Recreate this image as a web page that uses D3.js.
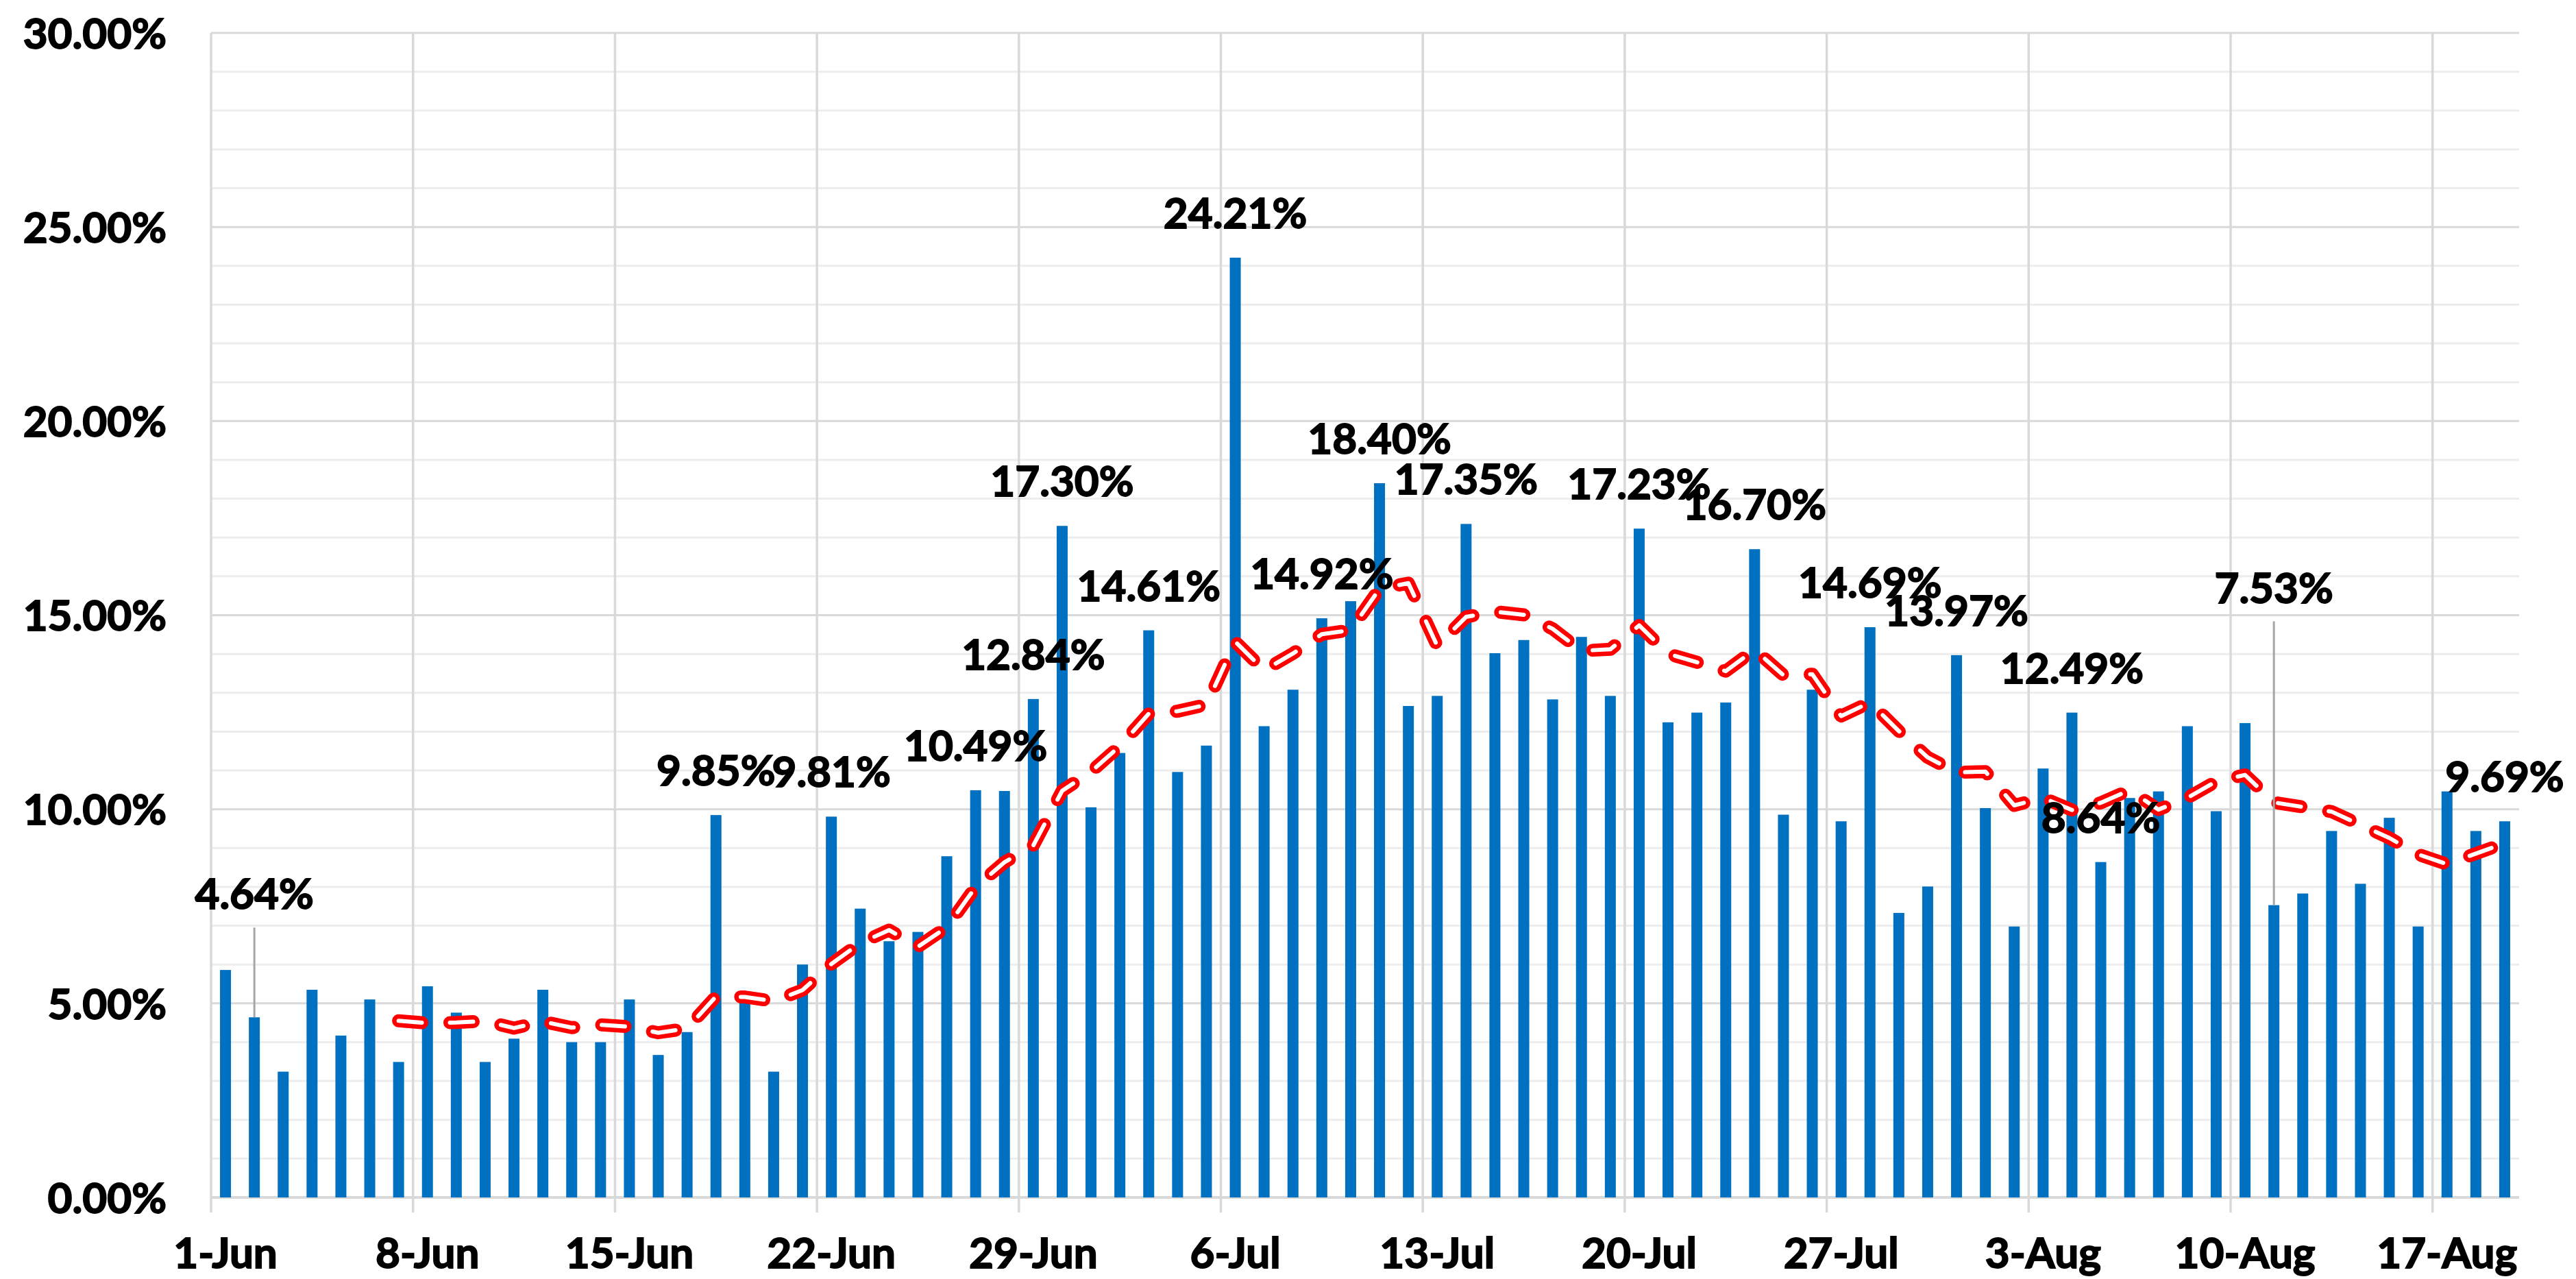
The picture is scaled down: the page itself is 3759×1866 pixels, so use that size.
<!DOCTYPE html>
<html><head><meta charset="utf-8">
<script src="https://cdn.jsdelivr.net/npm/d3@7"></script>
<style>html,body{margin:0;padding:0;background:#fff;} svg{display:block;}</style>
</head><body>
<svg id="chart" width="3759" height="1866"></svg>
<script>
// ---------- data ----------
const startDay = "2020-06-01";
const dayCount = 80;
// daily positivity (%), 1-Jun .. 19-Aug
const positivity = [
  5.86, 4.64, 3.24, 5.35, 4.17, 5.10, 3.49,      // 1-7 Jun
  5.44, 4.76, 3.49, 4.09, 5.35, 4.00, 4.00,      // 8-14 Jun
  5.10, 3.67, 4.26, 9.85, 5.27, 3.24, 6.00,      // 15-21 Jun
  9.81, 7.44, 6.60, 6.84, 8.79, 10.49, 10.47,    // 22-28 Jun
  12.84, 17.30, 10.05, 11.45, 14.61, 10.96, 11.64, // 29 Jun-5 Jul
  24.21, 12.14, 13.08, 14.92, 15.36, 18.40, 12.66, // 6-12 Jul
  12.92, 17.35, 14.02, 14.36, 12.83, 14.44, 12.92, // 13-19 Jul
  17.23, 12.24, 12.49, 12.75, 16.70, 9.86, 13.08,  // 20-26 Jul
  9.69, 14.69, 7.33, 8.01, 13.97, 10.03, 6.98,     // 27 Jul-2 Aug
  11.05, 12.49, 8.64, 10.29, 10.46, 12.14, 9.95,   // 3-9 Aug
  12.22, 7.53, 7.83, 9.44, 8.08, 9.78, 6.98,       // 10-16 Aug
  10.46, 9.44, 9.69                                // 17-19 Aug
];
const labeledDays = ["2-Jun","18-Jun","22-Jun","27-Jun","29-Jun","30-Jun","3-Jul","6-Jul",
  "9-Jul","11-Jul","14-Jul","20-Jul","24-Jul","28-Jul","31-Jul","4-Aug","5-Aug","11-Aug","19-Aug"];
const tickLabels = ["1-Jun","8-Jun","15-Jun","22-Jun","29-Jun","6-Jul","13-Jul","20-Jul",
  "27-Jul","3-Aug","10-Aug","17-Aug"];
const yTicks = [0, 5, 10, 15, 20, 25, 30];
const movingAvgPeriod = 7;

// ---------- layout / style ----------
const W = 3759, H = 1866;
const plot = {left: 308, right: 3676, top: 48, bottom: 1747};
const FONT = "Lato, 'Open Sans', 'DejaVu Sans', sans-serif";
const FS = 62;
const BLUE = "#0070C0";
const labelLift = {"2-Jun": 115, "11-Aug": 398};   // labels dragged up with leader lines

const parse = d3.timeParse("%Y-%m-%d");
const fmtDay = d3.timeFormat("%-d-%b");
const days = d3.timeDay.range(parse(startDay), d3.timeDay.offset(parse(startDay), dayCount));
const categories = days.map(fmtDay);
const rows = categories.map((c, i) => ({cat: c, v: positivity[i]}));

const x = d3.scaleBand().domain(categories).range([plot.left, plot.right])
  .paddingInner(0.62).paddingOuter(0.31);
const y = d3.scaleLinear().domain([0, 30]).range([plot.bottom, plot.top]);
const step = x.step();
const cx = c => x(c) + x.bandwidth() / 2;
const fmtPct = v => d3.format(".2f")(v) + "%";

function styleText(sel) {
  sel.attr("font-family", FONT).attr("font-weight", 700).attr("font-size", FS)
    .attr("fill", "#000").attr("stroke", "#000").attr("stroke-width", 1.8)
    .attr("paint-order", "stroke");
}

const svg = d3.select("#chart");
svg.append("rect").attr("width", W).attr("height", H).attr("fill", "#fff");

// minor gridlines (1%)
svg.append("g").selectAll("line")
  .data(d3.range(0, 31).filter(d => d % 5 !== 0))
  .join("line")
  .attr("x1", plot.left).attr("x2", plot.right)
  .attr("y1", d => y(d)).attr("y2", d => y(d))
  .attr("stroke", "#ededed").attr("stroke-width", 3);

// major gridlines (5%)
svg.append("g").selectAll("line")
  .data(yTicks)
  .join("line")
  .attr("x1", plot.left).attr("x2", plot.right)
  .attr("y1", d => y(d)).attr("y2", d => y(d))
  .attr("stroke", "#d9d9d9").attr("stroke-width", d => d === 0 ? 4 : 3);

// vertical gridlines at weekly category boundaries
svg.append("g").selectAll("line")
  .data(tickLabels)
  .join("line")
  .attr("x1", d => cx(d) - step / 2).attr("x2", d => cx(d) - step / 2)
  .attr("y1", y(30)).attr("y2", plot.bottom + 22)
  .attr("stroke", "#d9d9d9").attr("stroke-width", 3.5);

// bars
svg.append("g").selectAll("rect")
  .data(rows)
  .join("rect")
  .attr("x", d => x(d.cat))
  .attr("width", x.bandwidth())
  .attr("y", d => y(d.v))
  .attr("height", d => y(0) - y(d.v))
  .attr("fill", BLUE);

// 7-day moving average trendline
const ma = rows.map((d, i) => ({
  cat: d.cat,
  v: i < movingAvgPeriod - 1 ? null : d3.mean(positivity.slice(i - movingAvgPeriod + 1, i + 1))
}));
const line = d3.line().defined(d => d.v !== null).x(d => cx(d.cat)).y(d => y(d.v));
svg.append("path").datum(ma).attr("d", line)
  .attr("fill", "none").attr("stroke", "#ff0000").attr("stroke-width", 19)
  .attr("stroke-linecap", "round").attr("stroke-linejoin", "round")
  .attr("stroke-dasharray", "34,41");
svg.append("path").datum(ma).attr("d", line)
  .attr("fill", "none").attr("stroke", "#ffffff").attr("stroke-width", 6)
  .attr("stroke-linecap", "round").attr("stroke-linejoin", "round")
  .attr("stroke-dasharray", "34,41");

// data labels
const labelRows = rows.filter(d => labeledDays.includes(d.cat));
const gLab = svg.append("g");
labelRows.forEach(d => {
  const lift = labelLift[d.cat] || 0;
  const base = y(d.v) - 43 - lift;
  if (lift) {
    gLab.append("line")
      .attr("x1", cx(d.cat)).attr("x2", cx(d.cat))
      .attr("y1", base + 27).attr("y2", y(d.v))
      .attr("stroke", "#a6a6a6").attr("stroke-width", 3);
  }
  gLab.append("text")
    .attr("x", cx(d.cat)).attr("y", base)
    .attr("text-anchor", "middle")
    .call(styleText)
    .text(fmtPct(d.v));
});

// y axis labels
const yAxis = svg.append("g").attr("transform", `translate(${plot.left},0)`)
  .call(d3.axisLeft(y).tickValues(yTicks).tickFormat(fmtPct).tickSize(0).tickPadding(65));
yAxis.select(".domain").remove();
yAxis.selectAll("text").call(styleText).attr("dy", "0.36em");

// x axis labels
const xAxis = svg.append("g").attr("transform", `translate(0,1850)`)
  .call(d3.axisBottom(x).tickValues(tickLabels).tickSize(0).tickPadding(0));
xAxis.select(".domain").remove();
xAxis.selectAll("text").attr("y", 0).attr("dy", 0).call(styleText);
</script>
</body></html>
